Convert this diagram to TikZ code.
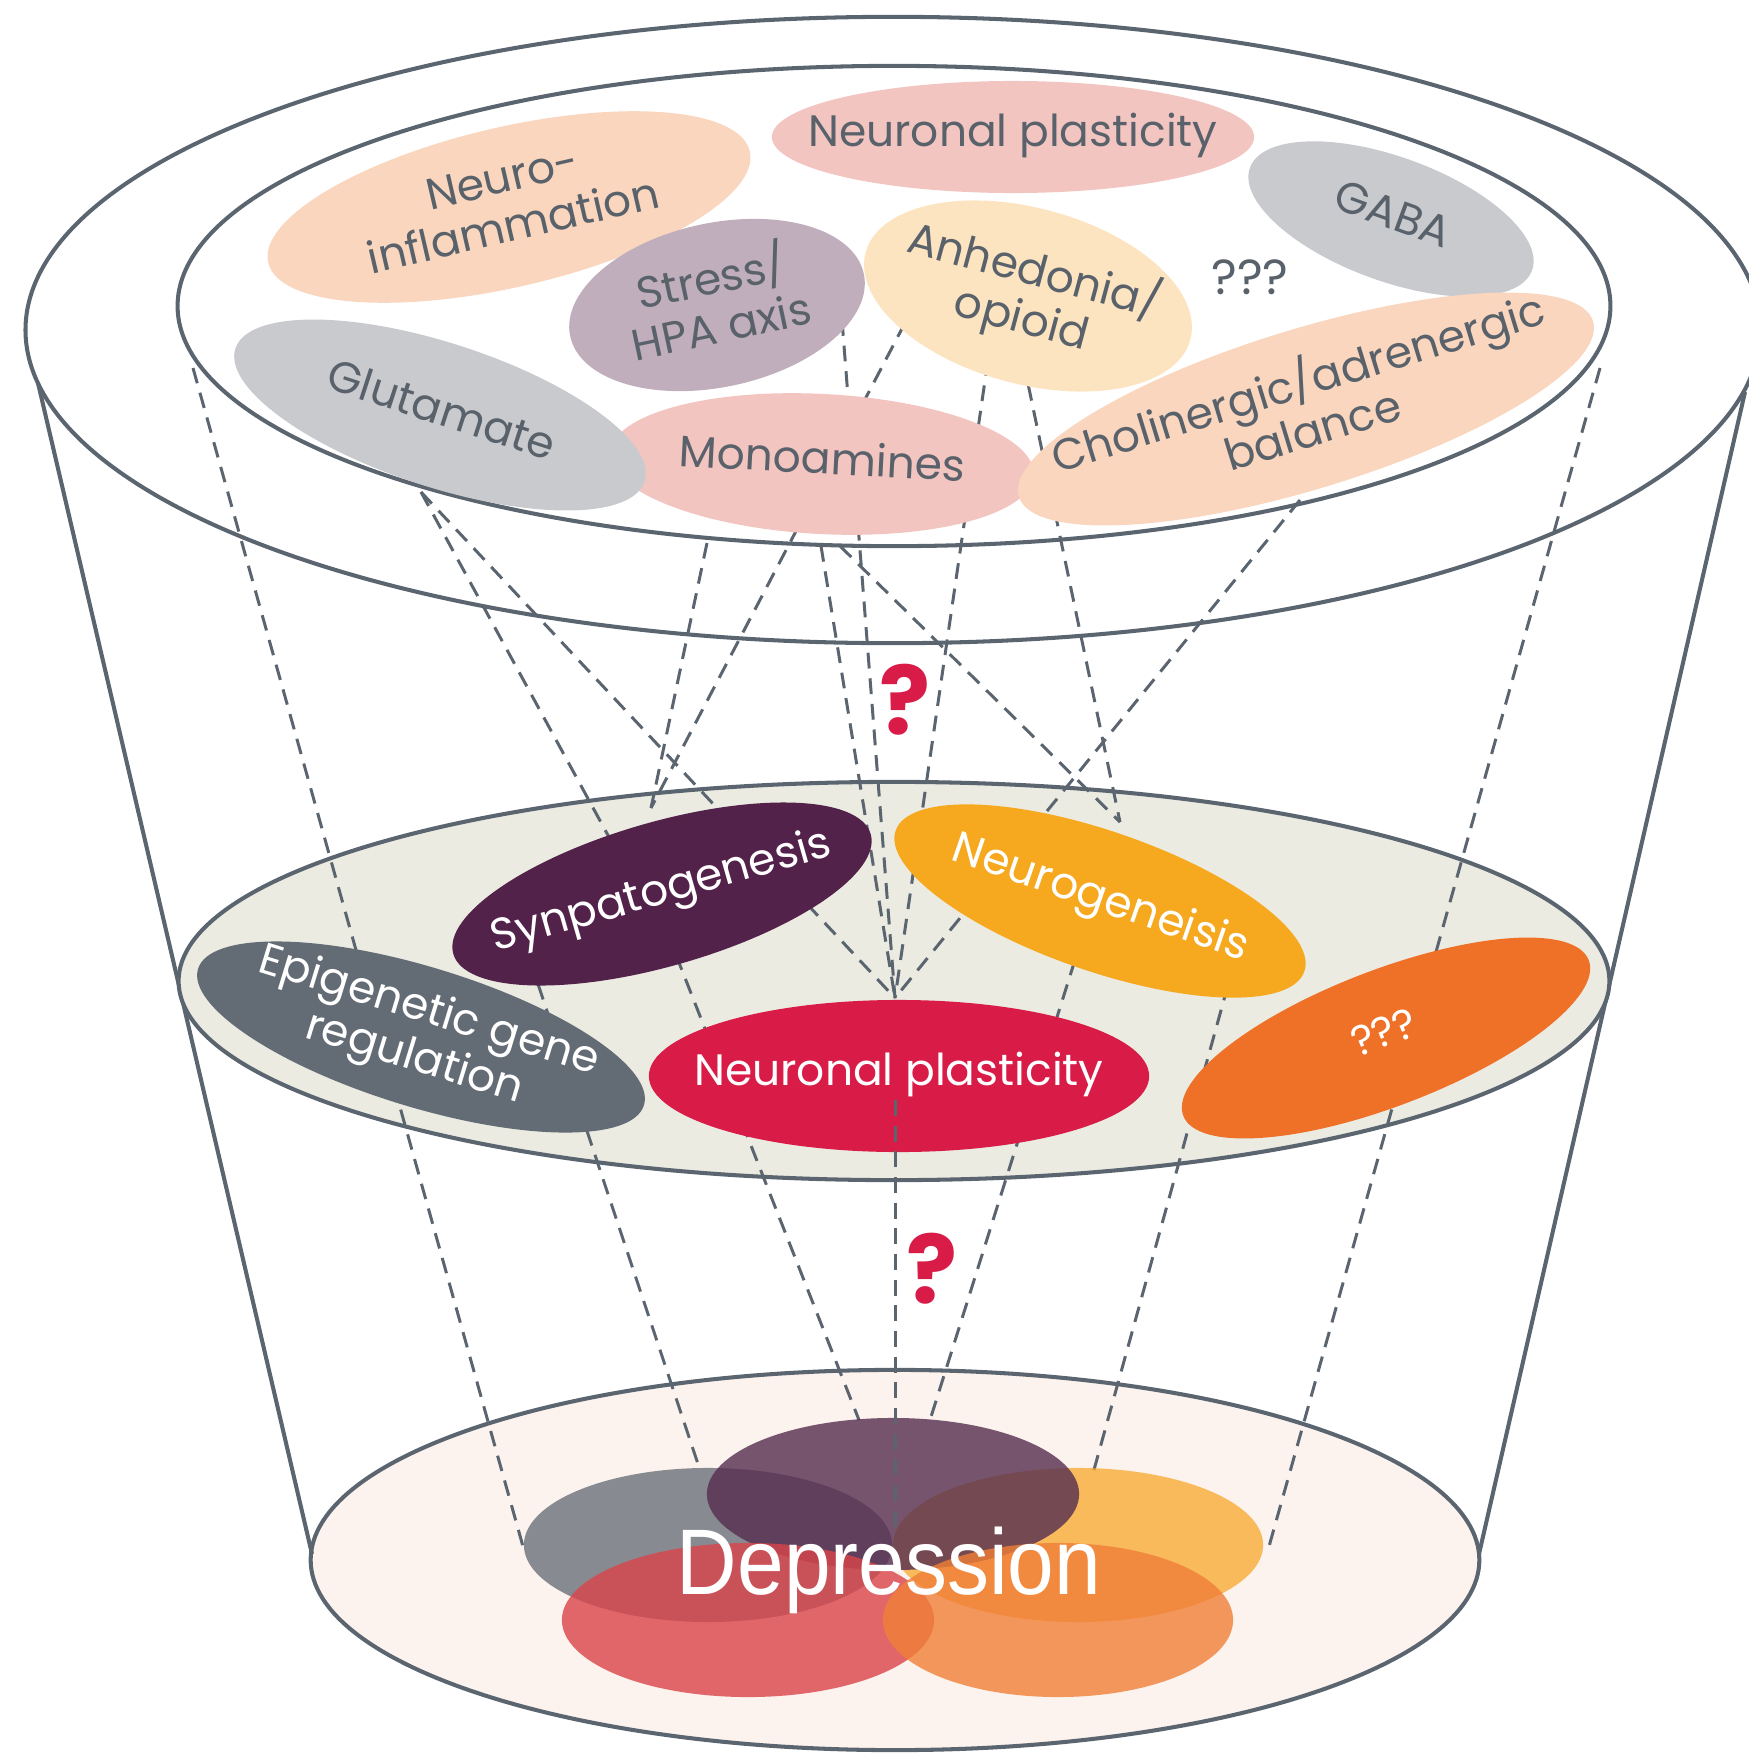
\documentclass[tikz,border=0pt]{standalone}
\usepackage{fontspec}
\setmainfont{Poppins}
\newfontfamily\deprfont{Liberation Sans}
\usetikzlibrary{shapes.geometric}

\definecolor{rimgrey}{HTML}{5B6570}
\definecolor{labgrey}{HTML}{59616B}
\definecolor{peach}{HTML}{F9D6BD}
\definecolor{rosy}{HTML}{F3C5C1}
\definecolor{ash}{HTML}{C9CACE}
\definecolor{mauve}{HTML}{C0AEBC}
\definecolor{cream}{HTML}{FDE4C1}
\definecolor{plum}{HTML}{52224B}
\definecolor{amber}{HTML}{F6A81F}
\definecolor{slate}{HTML}{636B75}
\definecolor{crimson}{HTML}{D91B47}
\definecolor{tangerine}{HTML}{EF7027}
\definecolor{midfloor}{HTML}{EBEBE2}
\definecolor{lowfloor}{HTML}{FCF2EE}
\definecolor{dgrey}{HTML}{6A707A}
\definecolor{dplum}{HTML}{552D4F}
\definecolor{damber}{HTML}{F8AC37}
\definecolor{dred}{HTML}{DA444A}
\definecolor{dorange}{HTML}{F07F37}

\pgfdeclarelayer{floor}
\pgfdeclarelayer{guides}
\pgfsetlayers{floor,guides,main}

\newcommand{\blobtext}[1]{\makebox[0pt]{\begin{tabular}{@{}c@{}}#1\end{tabular}}}

\tikzset{
  rim/.style={draw=rimgrey, line width=1.15pt},
  guide/.style={draw=rimgrey, line width=0.85pt, dash pattern=on 4.5pt off 2.8pt},
  blob/.style={ellipse, inner sep=0pt, font=\fontsize{12.5}{14}\selectfont},
  topblob/.style={blob, text=labgrey},
  midblob/.style={blob, text=white},
  quest/.style={text=crimson, font=\fontsize{27}{27}\selectfont\bfseries},
  disc/.style={fill opacity=0.8},
}

\begin{document}
\begin{tikzpicture}[x=0.01cm, y=-0.01cm]
\useasboundingbox (0,0) rectangle (1749,1754);

% Cone
\begin{pgfonlayer}{floor}
  \draw[rim, fill=lowfloor] (895,1560) ellipse [x radius=5.84cm, y radius=1.9cm];
  \draw[rim] (38,383) -- (312,1554);
  \draw[rim] (1745,392) -- (1479,1554);
  \draw[rim, fill=midfloor] (894,981) ellipse [x radius=7.15cm, y radius=1.99cm];
  \draw[rim] (893,330) ellipse [x radius=8.67cm, y radius=3.13cm];
  \draw[rim] (894,306) ellipse [x radius=7.16cm, y radius=2.4cm];
\end{pgfonlayer}

% Guide points
\coordinate (rimL) at (193,368);
\coordinate (rimR) at (1600,368);
\coordinate (rimGlu) at (421,492);
\coordinate (rimMa) at (707,543);
\coordinate (rimMb) at (821,546);
\coordinate (rimMc) at (840,546);
\coordinate (rimCho) at (1300,500);
\coordinate (srcStress) at (842,320);
\coordinate (srcAnhA) at (917,300);
\coordinate (srcAnhB) at (988,360);
\coordinate (srcAnhC) at (1023,360);
\coordinate (synIn) at (616,850);
\coordinate (synTop) at (651,808);
\coordinate (neuTop) at (1120,822);
\coordinate (npTop) at (895,998);
\coordinate (synSrcA) at (530,960);
\coordinate (synSrcB) at (676,955);
\coordinate (npSrc) at (895,1100);
\coordinate (neuSrcA) at (1075,960);
\coordinate (neuSrcB) at (1228,985);
\coordinate (greyL) at (524,1550);
\coordinate (greyTop) at (700,1470);
\coordinate (plumL) at (859,1420);
\coordinate (plumMid) at (895,1532);
\coordinate (plumR) at (930,1420);
\coordinate (amberTop) at (1092,1477);
\coordinate (amberR) at (1268,1550);

\begin{pgfonlayer}{guides}
  % top rim to middle floor
  \draw[guide] (rimL) -- (greyL);
  \draw[guide] (rimR) -- (amberR);
  \draw[guide] (rimGlu) -- (synIn);
  \draw[guide] (rimGlu) -- (npTop);
  \draw[guide] (rimMa) -- (synTop);
  \draw[guide] (srcAnhA) -- (synTop);
  \draw[guide] (srcStress) -- (npTop);
  \draw[guide] (rimMb) -- (npTop);
  \draw[guide] (srcAnhB) -- (npTop);
  \draw[guide] (rimCho) -- (npTop);
  \draw[guide] (rimMc) -- (neuTop);
  \draw[guide] (srcAnhC) -- (neuTop);
  % middle floor to bottom
  \draw[guide] (synSrcA) -- (greyTop);
  \draw[guide] (synSrcB) -- (plumL);
  \draw[guide] (neuSrcA) -- (plumR);
  \draw[guide] (neuSrcB) -- (amberTop);
\end{pgfonlayer}

% Top level
\node[topblob, fill=peach, minimum width=4.94cm, minimum height=1.6cm, rotate=13] (inflam) at (509,207) {\blobtext{Neuro-\\inflammation}};
\node[topblob, fill=rosy, minimum width=4.82cm, minimum height=1.12cm] (plastTop) at (1013,137) {\blobtext{Neuronal plasticity}};
\node[topblob, fill=ash, minimum width=3.0cm, minimum height=1.24cm, rotate=-20] (gaba) at (1391,219) {\blobtext{GABA}};
\node[topblob, fill=mauve, minimum width=3.0cm, minimum height=1.64cm, rotate=12] (stress) at (717,305) {\blobtext{Stress/\\HPA axis}};
\node[topblob, fill=cream, minimum width=3.36cm, minimum height=1.76cm, rotate=-15] (anhed) at (1028,296) {\blobtext{Anhedonia/\\opioid}};
\node[topblob, fill=rosy, minimum width=4.24cm, minimum height=1.4cm, rotate=-3] (mono) at (822,464) {\blobtext{Monoamines}};
\node[topblob, fill=ash, minimum width=4.3cm, minimum height=1.44cm, rotate=-18] (glut) at (440,415) {\blobtext{Glutamate}};
\node[topblob, fill=peach, minimum width=6.0cm, minimum height=1.6cm, rotate=17] (cholin) at (1306,409) {\blobtext{Cholinergic/adrenergic\\balance}};
\node[text=labgrey, font=\fontsize{14}{14}\selectfont] (unkTop) at (1250,277) {???};

% Middle level
\node[midblob, fill=plum, minimum width=4.34cm, minimum height=1.44cm, rotate=16] (synap) at (662,894) {\blobtext{Synpatogenesis}};
\node[midblob, fill=amber, minimum width=4.32cm, minimum height=1.4cm, rotate=-19] (neurog) at (1100,901) {\blobtext{Neurogeneisis}};
\node[midblob, fill=crimson, minimum width=5.0cm, minimum height=1.52cm] (plastMid) at (899,1076) {\blobtext{Neuronal plasticity}};
\node[midblob, fill=slate, minimum width=4.66cm, minimum height=1.4cm, rotate=-17] (epigen) at (421,1037) {\blobtext{Epigenetic gene\\regulation}};
\node[midblob, fill=tangerine, minimum width=4.34cm, minimum height=1.36cm, rotate=21, font=\fontsize{12}{12}\selectfont] (unkMid) at (1386,1038) {\blobtext{???}};

% Bottom level
\fill[dgrey, disc] (708,1545) ellipse [x radius=1.84cm, y radius=0.77cm];
\fill[damber, disc] (1078,1545) ellipse [x radius=1.85cm, y radius=0.77cm];
\fill[dplum, disc] (893,1494) ellipse [x radius=1.86cm, y radius=0.76cm];
\fill[dred, disc] (748,1620) ellipse [x radius=1.86cm, y radius=0.77cm];
\fill[dorange, disc] (1058,1620) ellipse [x radius=1.75cm, y radius=0.77cm];
\draw[guide] (npSrc) -- (plumMid);
\node[text=white, font=\deprfont\fontsize{26.5}{26.5}\selectfont] (depr) at (889,1570) {\scalebox{0.9}[1]{Depression}};

% Question marks
\node[quest] (qUp) at (905,700) {?};
\node[quest] (qLow) at (932,1269) {?};
\end{tikzpicture}
\end{document}
